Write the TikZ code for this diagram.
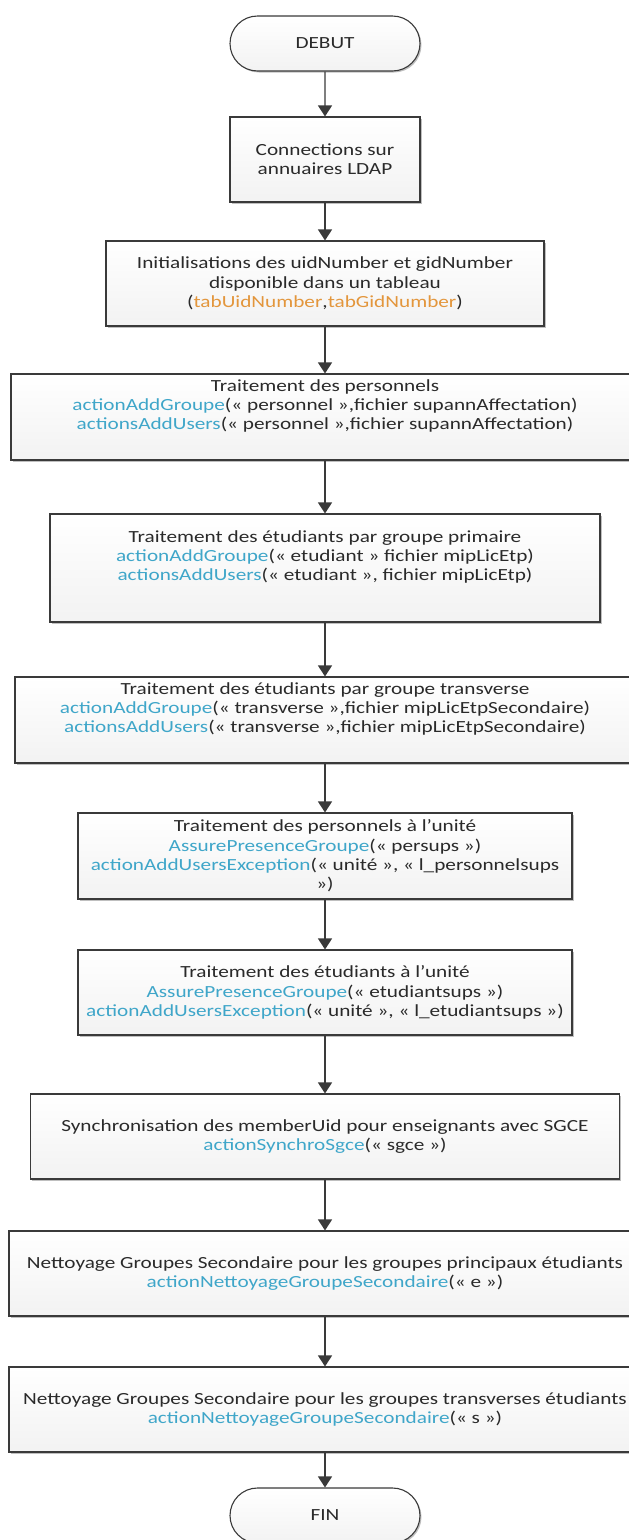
\documentclass[tikz,border=0pt]{standalone}
\usepackage{fontspec}
\setmainfont{Carlito}[FakeStretch=1.25]
\usetikzlibrary{arrows.meta,shapes.misc,shadows}
\definecolor{bord}{HTML}{3A3A3A}
\definecolor{txt}{HTML}{2A2A2A}
\definecolor{fn}{HTML}{3FA6C9}
\definecolor{org}{HTML}{E3963C}
\newcommand{\fn}[1]{\textcolor{fn}{#1}}
\newcommand{\og}[1]{\textcolor{org}{#1}}
\begin{document}
\begin{tikzpicture}[x=1pt,y=-1pt,
  base/.style={draw=bord, line width=1.1pt, top color=white, bottom color=black!5,
    align=center, inner sep=0pt, text=txt,
    font=\fontsize{17}{19.3}\selectfont,
    drop shadow={shadow xshift=1.5pt, shadow yshift=-1.5pt, opacity=0.25, fill=black}},
  procbox/.style={base, rectangle, minimum height=85pt},
  termbox/.style={base, rounded rectangle, minimum width=190pt, minimum height=55pt},
  arr/.style={draw=bord, line width=1.3pt, -{Triangle[width=14pt,length=11pt]}}
]
\useasboundingbox (0,0) rectangle (629,1540);

\node[termbox] (debut) at (325,43.5) {DEBUT};
\node[procbox, minimum width=190pt] (b1) at (325,159.5) {Connections sur\\annuaires LDAP};
\node[procbox, minimum width=438pt] (b2) at (325,283.5) {Initialisations des uidNumber et gidNumber\\disponible dans un tableau\\(\og{tabUidNumber},\og{tabGidNumber})};
\node[procbox, minimum width=628pt, minimum height=86pt] (b3) at (325,417) {Traitement des personnels\\\fn{actionAddGroupe}(« personnel »,fichier supannAffectation)\\\fn{actionsAddUsers}(« personnel »,fichier supannAffectation)\\\strut};
\node[procbox, minimum width=550pt, minimum height=108pt] (b4) at (325,568) {Traitement des étudiants par groupe primaire\\\fn{actionAddGroupe}(« etudiant » fichier mipLicEtp)\\\fn{actionsAddUsers}(« etudiant », fichier mipLicEtp)\\\strut};
\node[procbox, minimum width=620pt, minimum height=86pt] (b5) at (325,720) {Traitement des étudiants par groupe transverse\\\fn{actionAddGroupe}(« transverse »,fichier mipLicEtpSecondaire)\\\fn{actionsAddUsers}(« transverse »,fichier mipLicEtpSecondaire)\\\strut};
\node[procbox, minimum width=494pt, minimum height=86pt] (b6) at (325,856) {Traitement des personnels à l’unité\\\fn{AssurePresenceGroupe}(« persups »)\\\fn{actionAddUsersException}(« unité », « l\_personnelsups\\»)};
\node[procbox, minimum width=494pt] (b7) at (325,992.5) {Traitement des étudiants à l’unité\\\fn{AssurePresenceGroupe}(« etudiantsups »)\\\fn{actionAddUsersException}(« unité », « l\_etudiantsups »)};
\node[procbox, minimum width=589pt] (b8) at (325,1136.5) {Synchronisation des memberUid pour enseignants avec SGCE\\\fn{actionSynchroSgce}(« sgce »)};
\node[procbox, minimum width=632pt] (b9) at (325,1273.5) {Nettoyage Groupes Secondaire pour les groupes principaux étudiants\\\fn{actionNettoyageGroupeSecondaire}(« e »)};
\node[procbox, minimum width=632pt] (b10) at (325,1409.5) {Nettoyage Groupes Secondaire pour les groupes transverses étudiants\\\fn{actionNettoyageGroupeSecondaire}(« s »)};
\node[termbox] (fin) at (325,1515.5) {FIN};

\draw[arr] (debut) -- (b1);
\draw[arr] (b1) -- (b2);
\draw[arr] (b2) -- (b3);
\draw[arr] (b3) -- (b4);
\draw[arr] (b4) -- (b5);
\draw[arr] (b5) -- (b6);
\draw[arr] (b6) -- (b7);
\draw[arr] (b7) -- (b8);
\draw[arr] (b8) -- (b9);
\draw[arr] (b9) -- (b10);
\draw[arr] (b10) -- (fin);
\end{tikzpicture}
\end{document}
